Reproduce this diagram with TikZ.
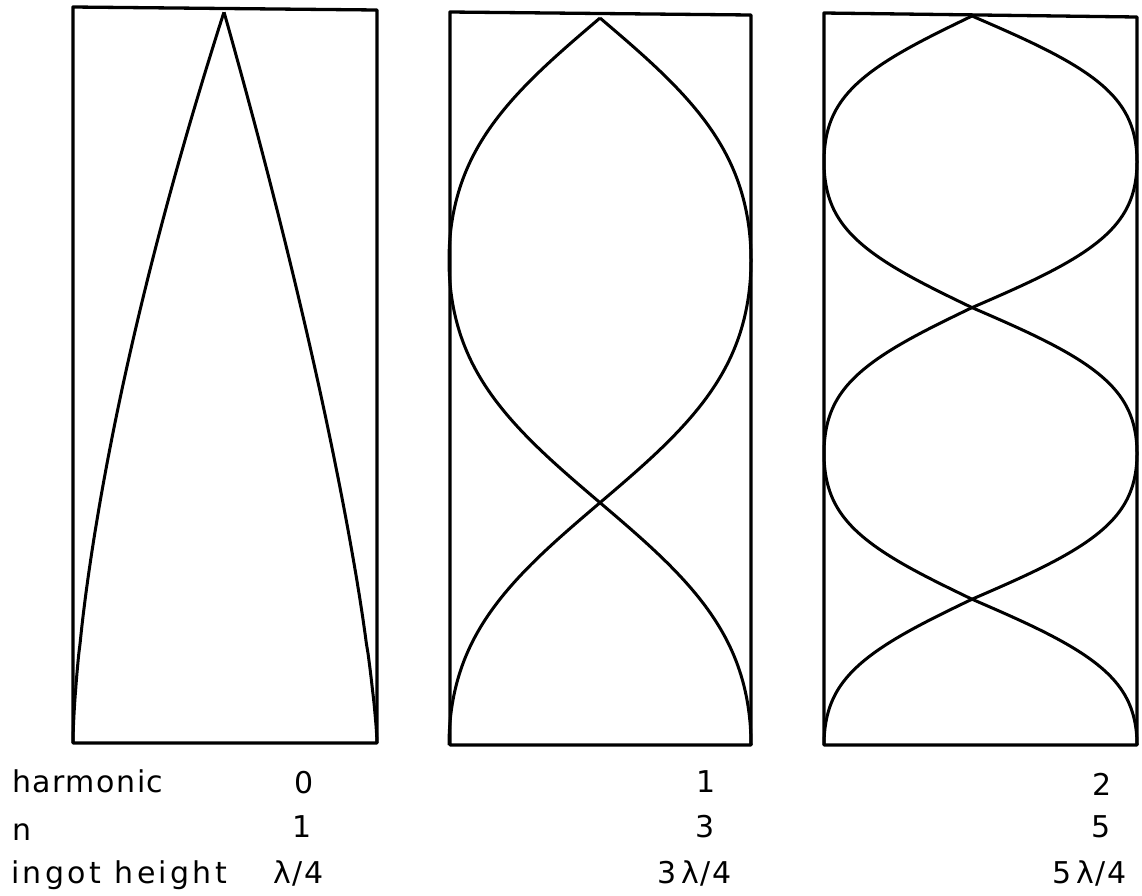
\documentclass[tikz,border=0pt]{standalone}
\usepackage{fontspec}
\newfontfamily\lab{DejaVu Sans}[LetterSpace=5]
\newfontfamily\labw{DejaVu Sans}[LetterSpace=11]
\begin{document}
\begin{tikzpicture}[x=1pt,y=-1pt,
  declare function={wf(\t,\a)=sin(\t)*(\a+(1-\a)*sin(\t)*sin(\t));},
  frame/.style={line width=3.3pt,line join=round},
  wave/.style={line width=3pt,smooth,line join=round},
  lbl/.style={inner sep=0pt,font=\lab\fontsize{30}{30}\selectfont},
  lblw/.style={inner sep=0pt,font=\labw\fontsize{30}{30}\selectfont}]
\useasboundingbox (0,0) rectangle (1142,895);
% box 1 : lambda/4
\draw[frame] (73,7) -- (377,10) -- (377,743) -- (73,743) -- cycle;
\draw[wave] (73,743) -- plot[domain=0.01:1,samples=80] ({73+151*\x^1.55},{743-731*\x});
\draw[wave] (377,743) -- plot[domain=0.01:1,samples=80] ({377-153*\x^1.35},{743-731*\x});
% box 2 : 3 lambda/4
\draw[frame] (450,12) -- (751,15) -- (751,745) -- (450,745) -- cycle;
\draw[wave] plot[domain=0:270,samples=150] ({600+151*wf(\x,1.2)},{18+2.6926*\x});
\draw[wave] plot[domain=0:270,samples=150] ({600-151*wf(\x,1.2)},{18+2.6926*\x});
% box 3 : 5 lambda/4
\draw[frame] (824,13) -- (1137,17) -- (1137,745) -- (824,745) -- cycle;
\draw[wave] plot[domain=0:450,samples=220] ({972+156.5*wf(\x,1.3)+8.5*abs(wf(\x,1.3))},{16+1.62*\x});
\draw[wave] plot[domain=0:450,samples=220] ({972-156.5*wf(\x,1.3)+8.5*abs(wf(\x,1.3))},{16+1.62*\x});
% labels
\node[lbl,anchor=base west] (harm) at (12,792) {harmonic};
\node[lbl,anchor=base west] (nn) at (12,840) {n};
\node[lblw,anchor=base west] (ih) at (11,883) {ingot\hspace{14pt}height};
\node[lbl,anchor=base] (h0) at (304,793) {0};
\node[lbl,anchor=base] (n0) at (302,837) {1};
\node[lbl,anchor=base west] (l0) at (273,883) {λ/4};
\node[lbl,anchor=base] (h1) at (706,792) {1};
\node[lbl,anchor=base] (n1) at (705,837) {3};
\node[lbl,anchor=base west] (l1) at (657,883) {3\,λ/4};
\node[lbl,anchor=base] (h2) at (1102,795) {2};
\node[lbl,anchor=base] (n2) at (1101,837) {5};
\node[lbl,anchor=base west] (l2) at (1052,883) {5\,λ/4};
\end{tikzpicture}
\end{document}
